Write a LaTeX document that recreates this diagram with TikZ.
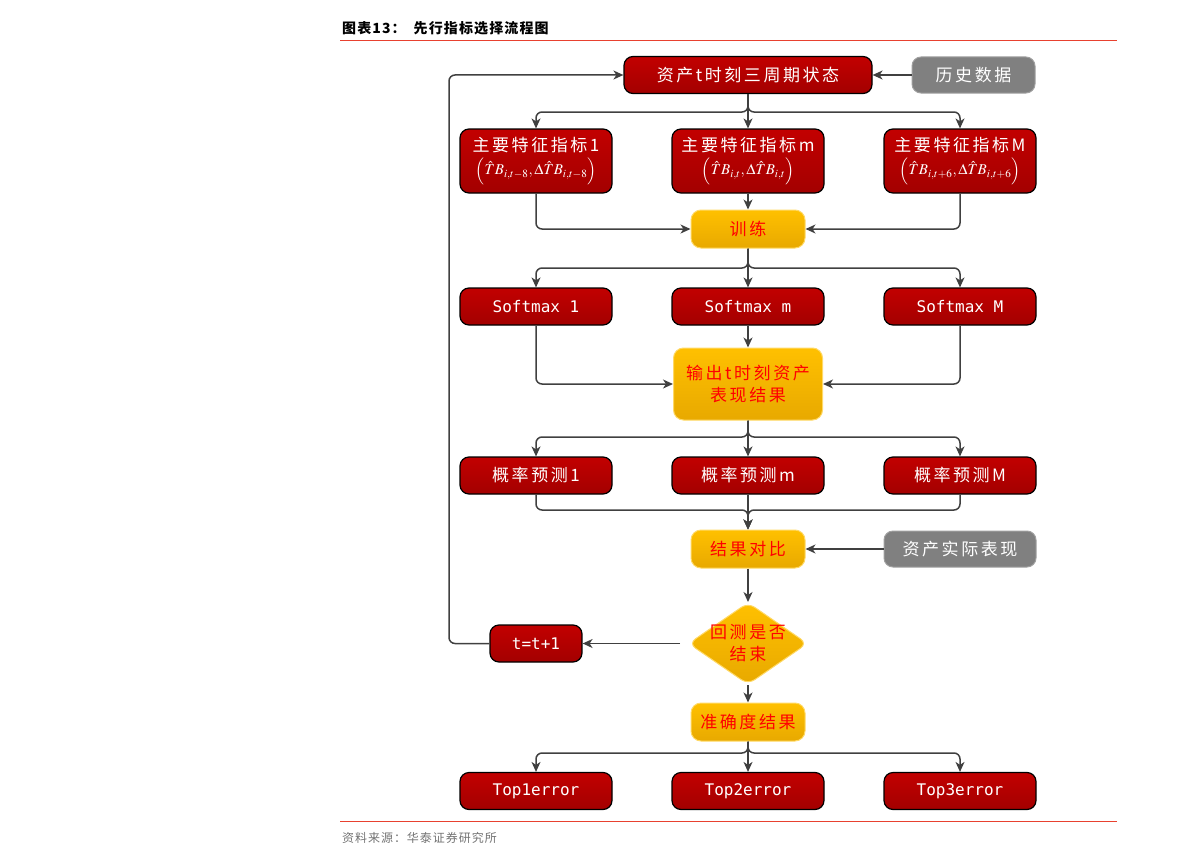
\documentclass[tikz,border=0pt]{standalone}
\usepackage{mathptmx}
\usepackage{fontspec}
\setmainfont{Noto Sans CJK SC}[LetterSpace=15]
\newfontfamily\monofont{DejaVu Sans Mono}
\newfontfamily\titlefont{Noto Sans CJK SC}[LetterSpace=8]
\usetikzlibrary{arrows.meta,shapes.geometric}

\definecolor{boxred}{HTML}{C20000}
\definecolor{boxreddark}{HTML}{A30000}
\definecolor{boxyellow}{HTML}{FFC000}
\definecolor{boxyellowdark}{HTML}{E8A900}
\definecolor{boxgray}{HTML}{808080}
\definecolor{linegray}{HTML}{404040}
\definecolor{rulered}{HTML}{E8412F}

\tikzset{
  redbox/.style={draw=black, line width=1.2pt, rounded corners=9pt,
    top color=boxred, bottom color=boxreddark, text=white,
    minimum width=152, minimum height=37, inner sep=2pt,
    font=\fontsize{17}{20}\selectfont},
  monobox/.style={redbox, font=\monofont\fontsize{16}{18}\selectfont},
  yellowbox/.style={draw=boxyellow!60!white, line width=1pt, rounded corners=10pt,
    top color=boxyellow, bottom color=boxyellowdark, text=red,
    minimum width=114, minimum height=38, inner sep=2pt,
    font=\fontsize{17}{22}\selectfont},
  graybox/.style={draw=boxgray!75!white, line width=1pt, fill=boxgray,
    rounded corners=9pt, text=white, minimum width=123, minimum height=36,
    inner sep=2pt, font=\fontsize{17}{20}\selectfont},
  arr/.style={draw=linegray, line width=1.5pt, rounded corners=6pt,
    -{Stealth[length=10pt,width=9pt,inset=3pt]}},
}

\begin{document}
\begin{tikzpicture}[x=1pt,y=-1pt]
\useasboundingbox (0,0) rectangle (1191,867);

% title and rules
\node[anchor=west, inner sep=0, font=\titlefont\bfseries\fontsize{14}{16}\selectfont] (title) at (342,28) {图表13：\hspace{8pt}先行指标选择流程图};
\draw[rulered, line width=0.9pt] (340,40) -- (1117,40);
\draw[rulered, line width=0.9pt] (340,821) -- (1117,821);
\node[anchor=west, inner sep=0, text=black!55, font=\titlefont\fontsize{12}{14}\selectfont] (source) at (342,838) {资料来源：华泰证券研究所};

% nodes
\node[redbox, minimum height=37, minimum width=248] (state) at (748,75) {资产t时刻三周期状态};
\node[graybox] (hist) at (973.5,75) {历史数据};

\node[redbox, minimum height=64, inner sep=1pt, align=center] (feat1) at (536,161)
  {主要特征指标1\\[3pt]{\fontsize{15}{17}\selectfont$\Bigl(\hat{T}B_{i,t-8},\Delta\hat{T}B_{i,t-8}\Bigr)$}};
\node[redbox, minimum height=64, inner sep=1pt, align=center] (featm) at (748,161)
  {主要特征指标m\\[3pt]{\fontsize{15}{17}\selectfont$\Bigl(\hat{T}B_{i,t},\Delta\hat{T}B_{i,t}\Bigr)$}};
\node[redbox, minimum height=64, inner sep=1pt, align=center] (featM) at (960,161)
  {主要特征指标M\\[3pt]{\fontsize{15}{17}\selectfont$\Bigl(\hat{T}B_{i,t+6},\Delta\hat{T}B_{i,t+6}\Bigr)$}};

\node[yellowbox] (train) at (748,229) {训练};

\node[monobox] (soft1) at (536,306.5) {Softmax 1};
\node[monobox] (softm) at (748,306.5) {Softmax m};
\node[monobox] (softM) at (960,306.5) {Softmax M};

\node[yellowbox, minimum width=149, minimum height=72, align=center] (out) at (748,384) {输出t时刻资产\\表现结果};

\node[redbox] (prob1) at (536,475.5) {概率预测1};
\node[redbox] (probm) at (748,475.5) {概率预测m};
\node[redbox] (probM) at (960,475.5) {概率预测M};

\node[yellowbox] (compare) at (748,549) {结果对比};
\node[graybox, minimum width=152] (actual) at (960,549) {资产实际表现};

\node[diamond, draw=boxyellow!60!white, line width=1pt, rounded corners=8pt,
  top color=boxyellow, bottom color=boxyellowdark, inner sep=0,
  minimum width=119, minimum height=82] (check) at (748,643.5) {};
\node[text=red, align=center, font=\fontsize{17}{22}\selectfont] (checktext) at (check) {回测是否\\结束};
\node[monobox, minimum width=92] (tstep) at (536,643.5) {t=t+1};

\node[yellowbox] (acc) at (748,722) {准确度结果};

\node[monobox] (top1) at (536,791) {Top1error};
\node[monobox] (top2) at (748,791) {Top2error};
\node[monobox] (top3) at (960,791) {Top3error};

% branch points
\coordinate (s1) at (748,112);
\coordinate (s2) at (748,268);
\coordinate (s3) at (748,437);
\coordinate (s4) at (748,753);
\coordinate (m1) at (748,510);
\coordinate (loopx) at (449,0);

% connectors
\draw[arr] (hist.west) -- (state.east);
\draw[arr] (state.south) -- (s1) -| (feat1.north);
\draw[arr] (state.south) -- (featm.north);
\draw[arr] (state.south) -- (s1) -| (featM.north);

\draw[arr] (feat1.south) |- (train.west);
\draw[arr] (featm.south) -- (train.north);
\draw[arr] (featM.south) |- (train.east);

\draw[arr] (train.south) -- (s2) -| (soft1.north);
\draw[arr] (train.south) -- (softm.north);
\draw[arr] (train.south) -- (s2) -| (softM.north);

\draw[arr] (soft1.south) |- (out.west);
\draw[arr] (softm.south) -- (out.north);
\draw[arr] (softM.south) |- (out.east);

\draw[arr] (out.south) -- (s3) -| (prob1.north);
\draw[arr] (out.south) -- (probm.north);
\draw[arr] (out.south) -- (s3) -| (probM.north);

\draw[arr] (prob1.south) |- (m1) -- (compare.north);
\draw[arr] (probm.south) -- (compare.north);
\draw[arr] (probM.south) |- (m1) -- (compare.north);

\draw[arr] (actual.west) -- (compare.east);
\draw[arr] (compare.south) -- (check.north);
\draw[arr] ([xshift=-8pt]check.west) -- (tstep.east);
\draw[arr] (tstep.west) -- (tstep.west -| loopx) |- (state.west);
\draw[arr] (check.south) -- (acc.north);

\draw[arr] (acc.south) -- (s4) -| (top1.north);
\draw[arr] (acc.south) -- (top2.north);
\draw[arr] (acc.south) -- (s4) -| (top3.north);
\end{tikzpicture}
\end{document}
